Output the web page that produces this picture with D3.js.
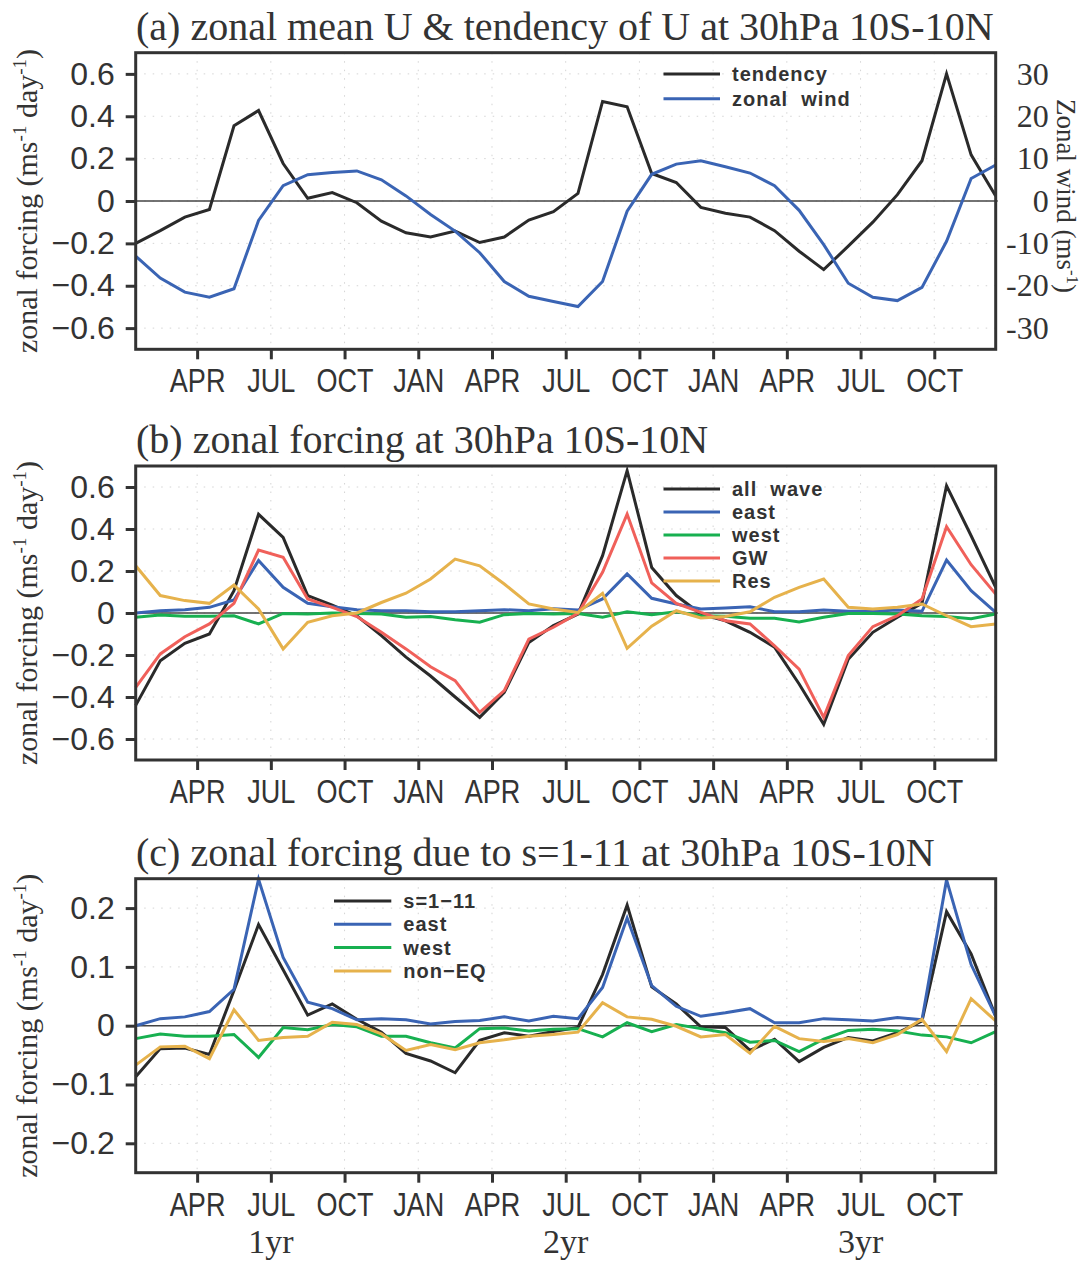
<!DOCTYPE html>
<html>
<head>
<meta charset="utf-8">
<script src="https://cdn.jsdelivr.net/npm/d3@7"></script>
<style>
  body { margin: 0; background: #fff; }
  svg { display: block; }
</style>
</head>
<body>
<svg id="chart"></svg>
<script>
// month index 0..35 = Jan of year 1 .. Dec of year 3 (one value per month)
var xTickLabels = ["APR", "JUL", "OCT", "JAN", "APR", "JUL", "OCT", "JAN", "APR", "JUL", "OCT"];
var xTickPos = [2.5, 5.5, 8.5, 11.5, 14.5, 17.5, 20.5, 23.5, 26.5, 29.5, 32.5];
var yearLabels = ["1yr", "2yr", "3yr"];
var yearPos = [5.5, 17.5, 29.5];

// (a) tendency (ms-1 day-1) and zonal wind (ms-1)
var tendency = [-0.20, -0.14, -0.076, -0.04, 0.355, 0.427, 0.177, 0.013, 0.04, -0.008, -0.095, -0.15,
  -0.17, -0.142, -0.196, -0.17, -0.09, -0.05, 0.036, 0.47, 0.445, 0.13, 0.087, -0.03,
  -0.058, -0.076, -0.14, -0.237, -0.324, -0.213, -0.10, 0.03, 0.19, 0.60, 0.218, 0.024];
var zonalWind = [-13.0, -18.2, -21.5, -22.7, -20.7, -4.6, 3.6, 6.2, 6.7, 7.1, 5.0, 1.2,
  -3.2, -7.1, -12.2, -19.0, -22.5, -23.7, -24.9, -19.0, -2.4, 6.3, 8.7, 9.5,
  8.1, 6.6, 3.6, -2.2, -10.3, -19.4, -22.7, -23.5, -20.4, -9.5, 5.3, 8.5];

// (b) zonal forcing
var allWave = [-0.44, -0.227, -0.144, -0.10, 0.106, 0.47, 0.36, 0.083, 0.038, -0.013, -0.108, -0.21,
  -0.30, -0.40, -0.497, -0.378, -0.14, -0.06, -0.005, 0.273, 0.678, 0.217, 0.083, -0.005,
  -0.037, -0.092, -0.163, -0.338, -0.53, -0.22, -0.092, -0.02, 0.046, 0.606, 0.368, 0.122];
var eastB = [0.0, 0.011, 0.016, 0.027, 0.062, 0.25, 0.122, 0.046, 0.03, 0.016, 0.011, 0.011,
  0.006, 0.006, 0.011, 0.016, 0.011, 0.02, 0.014, 0.067, 0.186, 0.07, 0.043, 0.019,
  0.024, 0.03, 0.006, 0.006, 0.014, 0.008, 0.008, 0.014, 0.008, 0.252, 0.106, 0.003];
var westB = [-0.02, -0.01, -0.016, -0.016, -0.013, -0.052, -0.002, -0.005, 0.0, -0.002, -0.005, -0.02,
  -0.017, -0.032, -0.044, -0.008, -0.002, -0.005, -0.002, -0.02, 0.006, -0.008, 0.006, -0.013,
  -0.016, -0.025, -0.025, -0.043, -0.02, -0.002, -0.002, -0.005, -0.013, -0.017, -0.027, -0.005];
var gwB = [-0.354, -0.195, -0.113, -0.052, 0.046, 0.30, 0.265, 0.067, 0.027, -0.017, -0.092, -0.171,
  -0.256, -0.322, -0.473, -0.37, -0.124, -0.068, -0.002, 0.194, 0.471, 0.143, 0.046, 0.003,
  -0.037, -0.052, -0.156, -0.267, -0.497, -0.203, -0.065, -0.013, 0.067, 0.411, 0.23, 0.09];
var resB = [0.225, 0.083, 0.059, 0.046, 0.133, 0.019, -0.171, -0.044, -0.013, 0.0, 0.05, 0.094,
  0.162, 0.257, 0.225, 0.138, 0.043, 0.019, 0.003, 0.094, -0.168, -0.063, 0.011, -0.024,
  -0.017, 0.006, 0.075, 0.122, 0.162, 0.027, 0.019, 0.027, 0.043, -0.013, -0.065, -0.052];

// (c) zonal forcing due to s=1-11
var s111 = [-0.087, -0.039, -0.038, -0.049, 0.06, 0.172, 0.095, 0.018, 0.037, 0.011, -0.011, -0.047,
  -0.06, -0.08, -0.025, -0.012, -0.018, -0.01, -0.003, 0.087, 0.205, 0.066, 0.037, -0.002,
  -0.003, -0.042, -0.023, -0.061, -0.037, -0.02, -0.026, -0.012, 0.008, 0.194, 0.122, 0.016];
var eastC = [0.0, 0.012, 0.015, 0.024, 0.062, 0.249, 0.116, 0.04, 0.029, 0.01, 0.012, 0.01,
  0.003, 0.007, 0.009, 0.015, 0.008, 0.016, 0.012, 0.065, 0.183, 0.068, 0.033, 0.016,
  0.022, 0.029, 0.005, 0.005, 0.012, 0.01, 0.008, 0.014, 0.01, 0.248, 0.104, 0.016];
var westC = [-0.022, -0.014, -0.018, -0.018, -0.015, -0.054, -0.003, -0.007, 0.002, -0.002, -0.018, -0.018,
  -0.029, -0.038, -0.005, -0.004, -0.009, -0.006, -0.005, -0.019, 0.005, -0.01, 0.002, -0.005,
  -0.012, -0.028, -0.025, -0.044, -0.023, -0.008, -0.006, -0.009, -0.016, -0.019, -0.029, -0.01];
var nonEQ = [-0.067, -0.036, -0.035, -0.056, 0.027, -0.025, -0.02, -0.018, 0.006, 0.002, -0.014, -0.042,
  -0.032, -0.041, -0.029, -0.024, -0.018, -0.015, -0.011, 0.039, 0.015, 0.011, -0.001, -0.019,
  -0.015, -0.047, -0.001, -0.022, -0.027, -0.022, -0.029, -0.015, 0.011, -0.044, 0.046, 0.008];

var colBlack = "#2a2a2a", colBlue = "#3a64b4", colGreen = "#17b050", colRed = "#f0605a", colYellow = "#e6b24c";
var textColor = "#333";
var sansFont = "'Liberation Sans', Arial, sans-serif";
var serifFont = "'Liberation Serif', 'Times New Roman', serif";

var svgWidth = 1084, svgHeight = 1262;
var plotLeft = 135.7, plotRight = 995.7;

var svg = d3.select("#chart")
  .attr("width", svgWidth)
  .attr("height", svgHeight);

svg.append("rect").attr("width", svgWidth).attr("height", svgHeight).attr("fill", "#fff");

var xScale = d3.scaleLinear().domain([0, 35]).range([plotLeft, plotRight]);
var months = d3.range(36);

var panels = [
  {
    title: "(a) zonal mean U & tendency of U at 30hPa 10S-10N",
    top: 52.7, bottom: 349.3, domain: [-0.7, 0.7],
    ticks: [-0.6, -0.4, -0.2, 0, 0.2, 0.4, 0.6],
    series: [
      { name: "tendency", values: tendency, color: colBlack },
      { name: "zonal  wind", values: zonalWind, color: colBlue, right: true }
    ],
    legend: { x1: 663.5, x2: 720, y: 74, dy: 24.7 },
    right: { domain: [-35, 35], ticks: [-30, -20, -10, 0, 10, 20, 30] }
  },
  {
    title: "(b) zonal forcing at 30hPa 10S-10N",
    top: 466, bottom: 760, domain: [-0.7, 0.7],
    ticks: [-0.6, -0.4, -0.2, 0, 0.2, 0.4, 0.6],
    series: [
      { name: "all  wave", values: allWave, color: colBlack },
      { name: "east", values: eastB, color: colBlue },
      { name: "west", values: westB, color: colGreen },
      { name: "GW", values: gwB, color: colRed },
      { name: "Res", values: resB, color: colYellow }
    ],
    legend: { x1: 663.5, x2: 720, y: 489, dy: 23 }
  },
  {
    title: "(c) zonal forcing due to s=1-11 at 30hPa 10S-10N",
    top: 878.7, bottom: 1172.7, domain: [-0.25, 0.25],
    ticks: [-0.2, -0.1, 0, 0.1, 0.2],
    series: [
      { name: "s=1\u221211", values: s111, color: colBlack },
      { name: "east", values: eastC, color: colBlue },
      { name: "west", values: westC, color: colGreen },
      { name: "non\u2212EQ", values: nonEQ, color: colYellow }
    ],
    legend: { x1: 334, x2: 391.3, y: 901, dy: 23.3 },
    years: true
  }
];

var yFormat = function (d) { return d === 0 ? "0" : d3.format(".1f")(d); };

panels.forEach(function (p) {
  var yScale = d3.scaleLinear().domain(p.domain).range([p.bottom, p.top]);
  var g = svg.append("g");

  // dotted grid
  g.selectAll(".hgrid").data(p.ticks).enter().append("line")
    .attr("x1", plotLeft).attr("x2", plotRight)
    .attr("y1", function (d) { return yScale(d); })
    .attr("y2", function (d) { return yScale(d); })
    .attr("stroke", "#d4d4d4").attr("stroke-width", 1).attr("stroke-dasharray", "1.5,7");
  g.selectAll(".vgrid").data(xTickPos).enter().append("line")
    .attr("x1", function (d) { return xScale(d); })
    .attr("x2", function (d) { return xScale(d); })
    .attr("y1", p.top).attr("y2", p.bottom)
    .attr("stroke", "#d4d4d4").attr("stroke-width", 1).attr("stroke-dasharray", "1.5,7");

  // zero line
  g.append("line")
    .attr("x1", plotLeft).attr("x2", plotRight + 2)
    .attr("y1", yScale(0)).attr("y2", yScale(0))
    .attr("stroke", "#444").attr("stroke-width", 1.6);

  // left axis
  var leftAxis = g.append("g")
    .attr("transform", "translate(" + plotLeft + ",0)")
    .call(d3.axisLeft(yScale).tickValues(p.ticks).tickSize(10).tickPadding(11).tickFormat(yFormat));
  leftAxis.select(".domain").remove();
  leftAxis.selectAll("line").attr("stroke", textColor).attr("stroke-width", 3);
  leftAxis.selectAll("text")
    .attr("fill", textColor)
    .style("font-family", sansFont)
    .style("font-size", "32px");

  // bottom axis
  var bottomAxis = g.append("g")
    .attr("transform", "translate(0," + p.bottom + ")")
    .call(d3.axisBottom(xScale).tickValues(xTickPos).tickSize(10)
      .tickFormat(function (d, i) { return xTickLabels[i]; }));
  bottomAxis.select(".domain").remove();
  bottomAxis.selectAll("line").attr("stroke", textColor).attr("stroke-width", 3);
  bottomAxis.selectAll("text")
    .attr("y", 43).attr("dy", null)
    .attr("transform", "scale(0.82,1)")
    .attr("fill", textColor)
    .style("font-family", sansFont)
    .style("font-size", "33px");

  // right axis for zonal wind
  var yRight = null;
  if (p.right) {
    yRight = d3.scaleLinear().domain(p.right.domain).range([p.bottom, p.top]);
    var rightAxis = g.append("g")
      .attr("transform", "translate(" + plotRight + ",0)")
      .call(d3.axisRight(yRight).tickValues(p.right.ticks).tickSize(0)
        .tickFormat(function (d) { return String(d); }));
    rightAxis.select(".domain").remove();
    rightAxis.selectAll("text")
      .attr("x", 53)
      .attr("text-anchor", "end")
      .attr("fill", textColor)
      .style("font-family", serifFont)
      .style("font-size", "32px");

    var rt = g.append("text")
      .attr("transform", "translate(1057," + ((p.top + p.bottom) / 2 - 5) + ") rotate(90)")
      .attr("text-anchor", "middle")
      .attr("fill", textColor)
      .style("font-family", serifFont)
      .style("font-size", "27px");
    rt.append("tspan").text("Zonal wind (ms");
    rt.append("tspan").attr("dy", -10).style("font-size", "17px").text("-1");
    rt.append("tspan").attr("dy", 10).text(")");
  }

  // lines
  p.series.forEach(function (s) {
    var ys = s.right ? yRight : yScale;
    var line = d3.line()
      .x(function (d) { return xScale(d); })
      .y(function (d) { return ys(s.values[d]); });
    g.append("path")
      .datum(months)
      .attr("d", line)
      .attr("fill", "none")
      .attr("stroke", s.color)
      .attr("stroke-width", 3);
  });

  // frame
  g.append("rect")
    .attr("x", plotLeft).attr("y", p.top)
    .attr("width", plotRight - plotLeft).attr("height", p.bottom - p.top)
    .attr("fill", "none").attr("stroke", textColor).attr("stroke-width", 3);

  // legend
  p.series.forEach(function (s, i) {
    var ly = p.legend.y + i * p.legend.dy;
    g.append("line")
      .attr("x1", p.legend.x1).attr("x2", p.legend.x2)
      .attr("y1", ly).attr("y2", ly)
      .attr("stroke", s.color).attr("stroke-width", 3);
    g.append("text")
      .attr("x", p.legend.x2 + 12).attr("y", ly).attr("dy", "0.35em")
      .attr("xml:space", "preserve")
      .style("white-space", "pre")
      .attr("fill", textColor)
      .style("font-family", sansFont)
      .style("font-weight", "bold")
      .style("font-size", "20px")
      .style("letter-spacing", "1px")
      .text(s.name);
  });

  // title
  g.append("text")
    .attr("x", 136).attr("y", p.top - 13)
    .attr("fill", textColor)
    .style("font-family", serifFont)
    .style("font-size", "40px")
    .text(p.title);

  // left axis title
  var lt = g.append("text")
    .attr("transform", "translate(37," + ((p.top + p.bottom) / 2) + ") rotate(-90)")
    .attr("text-anchor", "middle")
    .attr("fill", textColor)
    .style("font-family", serifFont)
    .style("font-size", "30px");
  lt.append("tspan").text("zonal forcing (ms");
  lt.append("tspan").attr("dy", -11).style("font-size", "19px").text("-1");
  lt.append("tspan").attr("dy", 11).text(" day");
  lt.append("tspan").attr("dy", -11).style("font-size", "19px").text("-1");
  lt.append("tspan").attr("dy", 11).text(")");

  // year labels under the last panel
  if (p.years) {
    g.selectAll(".year").data(yearLabels).enter().append("text")
      .attr("x", function (d, i) { return xScale(yearPos[i]); })
      .attr("y", 1253)
      .attr("text-anchor", "middle")
      .attr("fill", textColor)
      .style("font-family", serifFont)
      .style("font-size", "34px")
      .text(function (d) { return d; });
  }
});
</script>
</body>
</html>
